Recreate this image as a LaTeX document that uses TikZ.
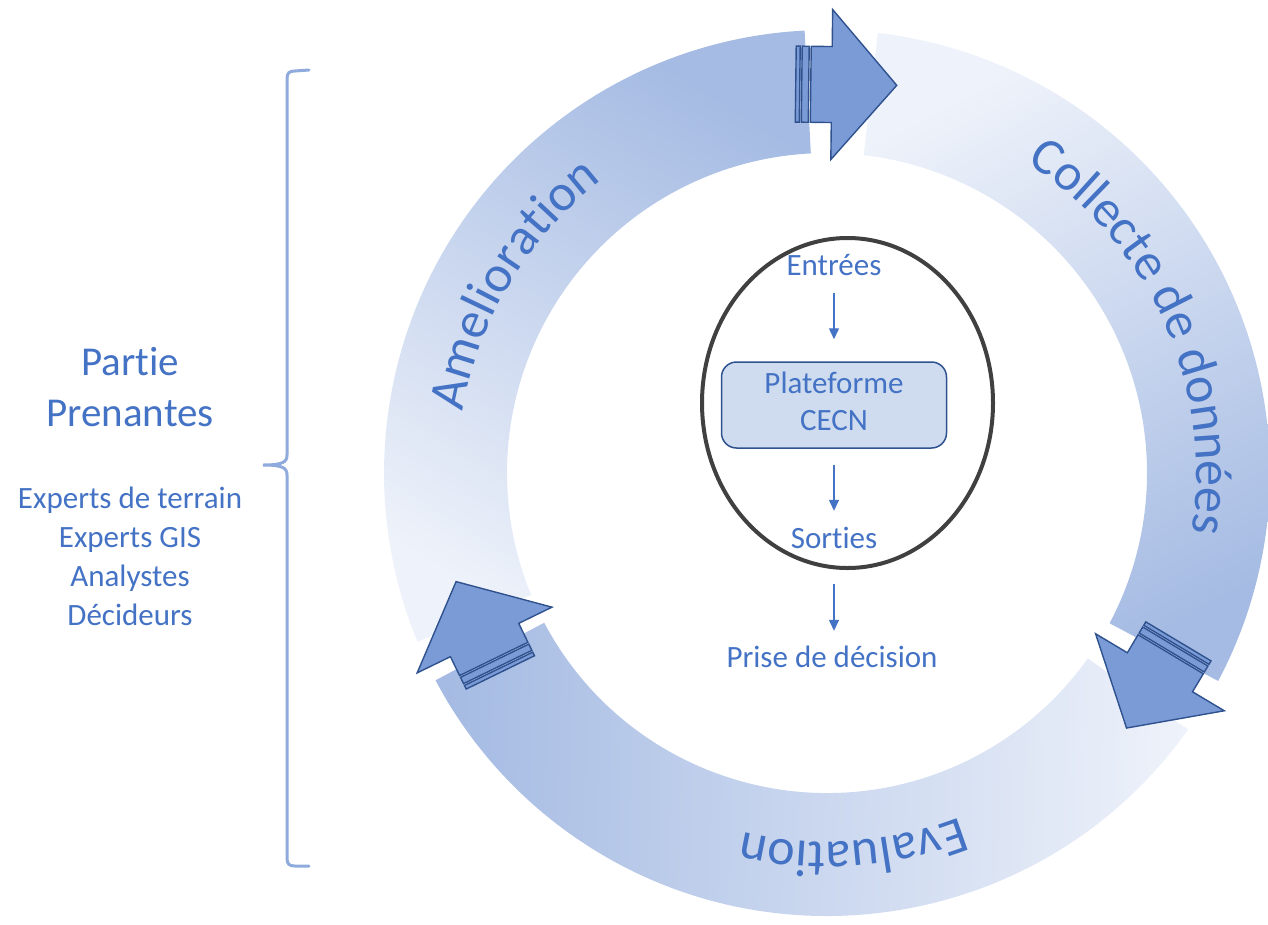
\documentclass[tikz,border=0pt]{standalone}
\usepackage{fontspec}
\setmainfont[Ligatures=NoCommon]{Carlito}
\usetikzlibrary{decorations.text, arrows.meta}
\definecolor{cblue}{HTML}{4472C4}
\definecolor{ringlight}{HTML}{EEF2FA}
\definecolor{ringdark}{HTML}{A5BBE3}
\definecolor{arrfill}{HTML}{7A9BD6}
\definecolor{arrline}{HTML}{2F528F}
\definecolor{bracecol}{HTML}{8FAADC}
\definecolor{boxfill}{HTML}{CFDCEF}
\definecolor{ellcol}{HTML}{404040}
\newcommand\ringfont{\fontsize{52}{60}\selectfont}
\begin{document}
\begin{tikzpicture}[x=1pt,y=1pt,
  cycarrow/.style={fill=arrfill, draw=arrline, line width=1.4pt, line join=miter},
  flow/.style={draw=cblue, line width=1.4pt, -{Triangle[length=11pt,width=10pt]}},
  lbl/.style={text=cblue, inner sep=0pt, font=\fontsize{31}{38}\selectfont, text height=22pt, text depth=7pt},
  side/.style={text=cblue, align=center, inner sep=0pt},
  bracestyle/.style={draw=bracecol, line width=3pt, line cap=round},
  ringtext/.style={decorate, decoration={text along path, text align=center, text color=cblue}}]
\useasboundingbox (0,0) rectangle (1268,-924);

% ring segments
\begin{scope}[shift={(827,-473)}]
  \shade[top color=ringdark, bottom color=ringlight, shading angle=-32]
    (202.4:443) arc[start angle=202.4, end angle=92.9, radius=443]
    -- (92.9:320) arc[start angle=92.9, end angle=202.4, radius=320] -- cycle;
  \shade[top color=ringdark, bottom color=ringlight, shading angle=-152]
    (83.4:443) arc[start angle=83.4, end angle=-28, radius=443]
    -- (-28:320) arc[start angle=-28, end angle=83.4, radius=320] -- cycle;
  \shade[top color=ringdark, bottom color=ringlight, shading angle=88]
    (-35.4:443) arc[start angle=-35.4, end angle=-152.1, radius=443]
    -- (-152.1:320) arc[start angle=-152.1, end angle=-35.4, radius=320] -- cycle;

  % labels on the ring
  \path[ringtext, decoration={text={|\ringfont|Amelioration}}]
    (209:369) arc[start angle=209, end angle=89, radius=369];
  \path[ringtext, decoration={text={|\ringfont|Collecte de données}}]
    (89:369) arc[start angle=89, end angle=-41, radius=369];
  \path[ringtext, decoration={text={|\ringfont|Evaluation}}]
    (-26:369) arc[start angle=-26, end angle=-146, radius=369];

  % striped arrows
  \foreach \a/\r in {89.3/388.5, -30.9/388, 206/381} {
    \begin{scope}[shift={(\a:\r)}, rotate=\a-90]
      \filldraw[cycarrow] (0,75) -- (65,0) -- (0,-75) -- (0,-38) -- (-21,-38) -- (-21,38) -- (0,38) -- cycle;
      \filldraw[cycarrow] (-23,-38) rectangle (-30,38);
      \filldraw[cycarrow] (-32,-38) rectangle (-36,38);
    \end{scope}
  }
\end{scope}

% central ellipse
\draw[line width=4pt, draw=ellcol] (847.5,-403) ellipse [x radius=145.5, y radius=165];

\node[lbl] (e) at (834,-268) {Entrées};
\node[draw=arrline, fill=boxfill, rounded corners=15pt, line width=1.5pt,
      minimum width=225pt, minimum height=86pt, align=center, text=cblue, text depth=8pt,
      font=\fontsize{31}{37}\selectfont] (p) at (834,-405) {Plateforme\\CECN};
\node[lbl] (s) at (834,-541) {Sorties};
\node[lbl] (d) at (832,-660) {Prise de décision};

\draw[flow, shorten <=10.5pt, shorten >=22pt] (e.south) -- (p.north);
\draw[flow, shorten <=16pt, shorten >=15.5pt] (p.south) -- (s.north);
\draw[flow, shorten <=28.5pt, shorten >=14.5pt] (s.south) -- (s.south |- d.north);

% left side
\node[side, font=\fontsize{41}{51}\selectfont] (pp) at (130,-387.5) {Partie\\Prenantes};
\node[side, font=\fontsize{31}{39}\selectfont] (ex) at (130,-556) {Experts de terrain\\Experts GIS\\Analystes\\Décideurs};

\draw[bracestyle] (309,-70) -- (295,-71) .. controls (289,-71) and (287,-73) .. (287,-79)
  -- (287,-455) .. controls (287,-462) and (283,-465) .. (263,-465)
  .. controls (283,-465) and (287,-468) .. (287,-475)
  -- (287,-858) .. controls (287,-864) and (289,-866) .. (295,-866) -- (309,-866);
\end{tikzpicture}
\end{document}
